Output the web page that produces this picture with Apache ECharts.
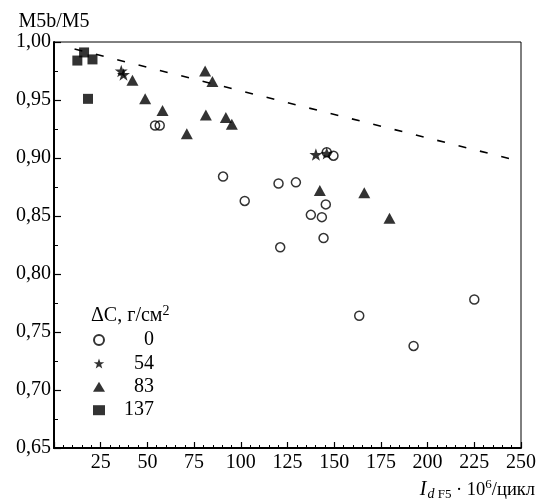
<!DOCTYPE html>
<html>
<head>
<meta charset="utf-8">
<script src="https://cdn.jsdelivr.net/npm/echarts@6/dist/echarts.min.js"></script>
<style>html,body{margin:0;padding:0;background:#fff;}#c{width:540px;height:502px;}</style>
</head>
<body>
<div id="c"></div>
<script>
// ---- data ----
const legendNames = ['0', '54', '83', '137'];
const xTicks = [0, 25, 50, 75, 100, 125, 150, 175, 200, 225, 250];
const yTicks = [0.65, 0.70, 0.75, 0.80, 0.85, 0.90, 0.95, 1.00];

const c0X = [54.1, 56.6, 90.5, 102.1, 120.2, 129.5, 121.1, 137.5, 143.4, 144.3, 145.5, 146.0, 149.6, 163.4, 192.5, 225.0];
const c0Y = [0.928, 0.928, 0.884, 0.863, 0.878, 0.879, 0.823, 0.851, 0.849, 0.831, 0.860, 0.905, 0.902, 0.764, 0.738, 0.778];

const c54X = [36.0, 37.2, 140.2, 146.0];
const c54Y = [0.975, 0.972, 0.903, 0.904];

const c83X = [42.0, 48.8, 58.1, 71.1, 80.9, 84.8, 81.3, 92.0, 95.2, 142.3, 166.1, 179.6];
const c83Y = [0.967, 0.951, 0.941, 0.921, 0.975, 0.966, 0.937, 0.935, 0.929, 0.872, 0.870, 0.848];

const c137X = [12.5, 16.1, 20.6, 18.2];
const c137Y = [0.984, 0.991, 0.985, 0.951];

const dashX = [11, 250];
const dashY = [0.994, 0.897];

// ---- build ----
const zip = (xs, ys) => xs.map((x, i) => [x, ys[i]]);
const FONT = '"Liberation Serif", "DejaVu Serif", serif';
const STAR = 'path://M0,-10 L2.35,-3.24 L9.51,-3.09 L3.80,1.24 L5.88,8.09 L0,4 L-5.88,8.09 L-3.80,1.24 L-9.51,-3.09 L-2.35,-3.24 Z';
const fmt = v => (Math.round(v * 100) / 100).toFixed(2).replace('.', ',');

const chart = echarts.init(document.getElementById('c'), null, {renderer: 'canvas'});
chart.setOption({
  animation: false,
  backgroundColor: '#fff',
  textStyle: {fontFamily: FONT, color: '#000'},
  grid: {left: 54, right: 19, top: 42, bottom: 54, show: true, borderColor: '#000', borderWidth: 1, backgroundColor: 'transparent'},
  xAxis: {
    type: 'value', min: xTicks[0], max: xTicks[xTicks.length - 1], interval: 25,
    axisLine: {show: true, onZero: false, lineStyle: {color: '#000', width: 2}},
    axisTick: {show: true, inside: true, length: 6, lineStyle: {color: '#000', width: 1.2}},
    minorTick: {show: true, splitNumber: 5, length: 3, lineStyle: {color: '#000', width: 1}},
    splitLine: {show: false},
    axisLabel: {color: '#000', fontFamily: FONT, fontSize: 20, margin: 5,
      formatter: v => (v === 0 ? '' : String(v))},
    name: '{i|I}{sub|d}{subn| F5}{n| · 10}{sup|6}{n|/цикл}',
    nameLocation: 'end', nameGap: 14,
    nameTextStyle: {
      align: 'right', verticalAlign: 'top', padding: [30, 0, 0, 0], fontFamily: FONT, fontSize: 19,
      rich: {
        i: {fontFamily: FONT, fontSize: 20, fontStyle: 'italic', color: '#000'},
        sub: {fontFamily: FONT, fontSize: 14, fontStyle: 'italic', color: '#000', padding: [9, 0, 0, 1]},
        subn: {fontFamily: FONT, fontSize: 13, color: '#000', padding: [9, 0, 0, 0]},
        n: {fontFamily: FONT, fontSize: 18.5, color: '#000'},
        sup: {fontFamily: FONT, fontSize: 13, color: '#000', padding: [0, 0, 11, 0]}
      }
    }
  },
  yAxis: {
    type: 'value', min: yTicks[0], max: yTicks[yTicks.length - 1], interval: 0.05,
    axisLine: {show: true, onZero: false, lineStyle: {color: '#000', width: 2}},
    axisTick: {show: true, inside: true, length: 7, lineStyle: {color: '#000', width: 1.2}},
    minorTick: {show: true, splitNumber: 2, length: 4, lineStyle: {color: '#000', width: 1}},
    splitLine: {show: false},
    axisLabel: {color: '#000', fontFamily: FONT, fontSize: 20, margin: 3, formatter: fmt},
    name: 'M5b/M5', nameLocation: 'end', nameGap: 12,
    nameTextStyle: {color: '#000', fontFamily: FONT, fontSize: 20, align: 'center', verticalAlign: 'middle'}
  },
  legend: {
    orient: 'vertical', left: 93, top: 330, padding: 0,
    itemWidth: 12, itemHeight: 10, itemGap: 3.4,
    data: legendNames,
    formatter: name => '{a|' + name + '}',
    textStyle: {fontFamily: FONT, color: '#000',
      rich: {a: {fontFamily: FONT, fontSize: 20, color: '#000', width: 44, align: 'right', lineHeight: 20}}}
  },
  graphic: [{
    type: 'text', left: 91, top: 304,
    style: {
      text: '{n|ΔC, г/см}{sup|2}',
      rich: {
        n: {fontFamily: FONT, fontSize: 20, fill: '#000'},
        sup: {fontFamily: FONT, fontSize: 14, fill: '#000', padding: [0, 0, 10, 0]}
      }
    }
  }],
  series: [
    {type: 'line', name: 'dash', data: zip(dashX, dashY), symbol: 'none', silent: true,
      lineStyle: {color: '#000', width: 1.6, type: [8, 14]}, z: 1},
    {type: 'scatter', name: legendNames[0], data: zip(c0X, c0Y), symbol: 'circle', symbolSize: 9,
      itemStyle: {color: 'rgba(255,255,255,0)', borderColor: '#000', borderWidth: 1.5}},
    {type: 'scatter', name: legendNames[1], data: zip(c54X, c54Y), symbol: STAR, symbolSize: 13, symbolKeepAspect: true,
      itemStyle: {color: '#000'}},
    {type: 'scatter', name: legendNames[2], data: zip(c83X, c83Y), symbol: 'triangle', symbolSize: [12, 11],
      itemStyle: {color: '#000'}},
    {type: 'scatter', name: legendNames[3], data: zip(c137X, c137Y), symbol: 'rect', symbolSize: 10,
      itemStyle: {color: '#000'}}
  ]
});
</script>
</body>
</html>
